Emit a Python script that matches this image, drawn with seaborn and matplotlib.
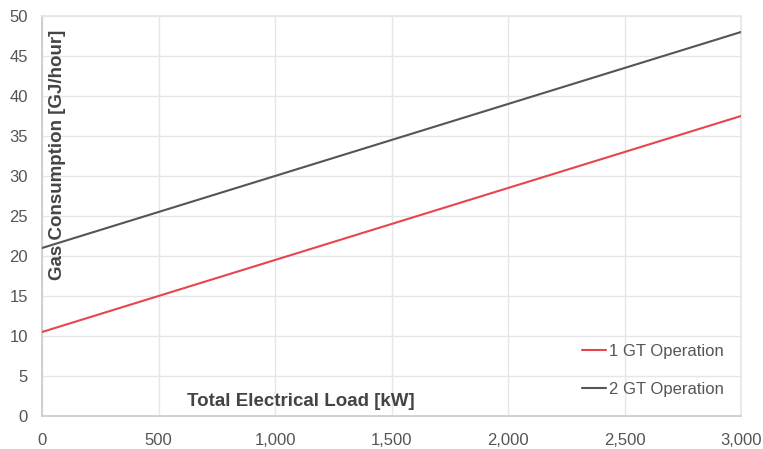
import matplotlib
matplotlib.use("Agg")
import matplotlib.pyplot as plt
import matplotlib.ticker as mticker
import seaborn as sns
import pandas as pd

load_kw = [0, 500, 1000, 1500, 2000, 2500, 3000]
gt1 = [10.5, 15.0, 19.5, 24.0, 28.5, 33.0, 37.5]
gt2 = [21.0, 25.5, 30.0, 34.5, 39.0, 43.5, 48.0]
series_names = ["1 GT Operation", "2 GT Operation"]
x_ticks = [0, 500, 1000, 1500, 2000, 2500, 3000]
y_ticks = [0, 5, 10, 15, 20, 25, 30, 35, 40, 45, 50]

df = pd.DataFrame({
    "load": load_kw * 2,
    "gas": gt1 + gt2,
    "series": [series_names[0]] * len(load_kw) + [series_names[1]] * len(load_kw),
})

sns.set_theme(style="white")
plt.rcParams['font.family'] = ['Liberation Sans', 'DejaVu Sans']

fig = plt.figure(figsize=(7.63, 4.49), dpi=100)
ax = fig.add_axes([42 / 763, 33 / 449, 699 / 763, 400 / 449])

palette = {series_names[0]: "#e8454c", series_names[1]: "#555555"}
sns.lineplot(data=df, x="load", y="gas", hue="series", palette=palette,
             linewidth=1.5, ax=ax, legend=True, zorder=3)

ax.set_xlim(0, 3000)
ax.set_ylim(0, 50)
ax.set_xticks(x_ticks)
ax.set_yticks(y_ticks)
ax.xaxis.set_major_formatter(mticker.FuncFormatter(lambda v, p: f"{int(v):,}"))
ax.grid(True, color="#e6e6e6", linewidth=1)
ax.set_axisbelow(True)
for s in ["top", "right"]:
    ax.spines[s].set_color("#e6e6e6")
ax.spines["left"].set_color("#cccccc")
ax.spines["bottom"].set_color("#cccccc")
ax.tick_params(axis="both", length=0, labelsize=12, labelcolor="#555555")
ax.tick_params(axis="y", pad=10)
ax.tick_params(axis="x", pad=12)

ax.set_xlabel("")
ax.set_ylabel("")
ax.text(0.3705, 0.035, "Total Electrical Load [kW]", transform=ax.transAxes,
        ha="center", va="center", fontsize=13.5, fontweight="bold", color="#444444")
ax.text(0.0225, 0.6525, "Gas Consumption [GJ/hour]", transform=ax.transAxes,
        ha="center", va="center", rotation=90, fontsize=13.5, fontweight="bold", color="#444444")

leg = ax.legend(loc="lower right", bbox_to_anchor=(0.997, 0.01), frameon=False,
                fontsize=12, handlelength=1.4, handletextpad=0.2, labelspacing=1.4,
                labelcolor="#555555")

fig.savefig("out.png", dpi=100)
